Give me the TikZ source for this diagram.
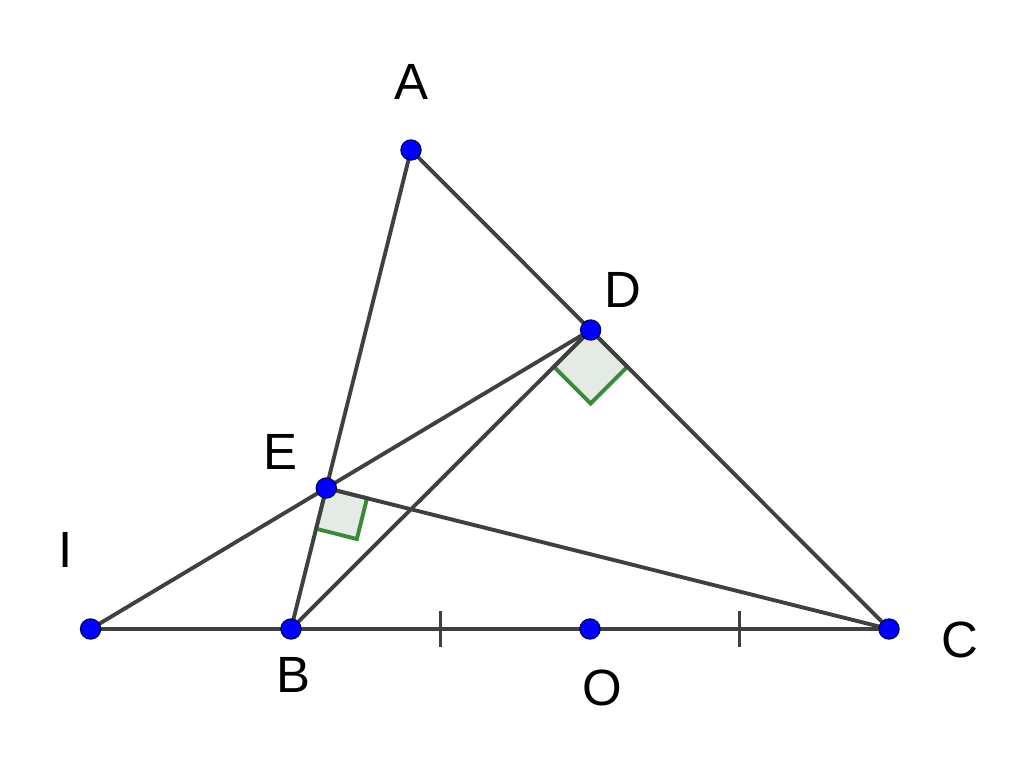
\documentclass[tikz,border=0pt]{standalone}
\usepackage{fontspec}
\setmainfont{Liberation Sans}
\usepackage{tkz-euclide}
\usepackage{xcolor}
\usetikzlibrary{calc}
\definecolor{segcol}{HTML}{404040}
\definecolor{rgreen}{HTML}{3A8A3A}
\definecolor{rfill}{HTML}{E4EBE4}
\definecolor{ptblue}{HTML}{0000FF}
\definecolor{ptedge}{HTML}{00006A}
\tikzset{lbl/.style={font=\fontsize{14.5}{17}\selectfont,inner sep=0pt},
  seg/.style={color=segcol,line width=1.1pt}}

\begin{document}
\begin{tikzpicture}
    \useasboundingbox (0,0) rectangle (10.24,7.73);
    \tkzDefPoint(4.11,6.23){A}
    \tkzDefPoint(2.91,1.44){B}
    \tkzDefPoint(8.89,1.44){C}
    \tkzDefPointBy[projection=onto A--C](B) \tkzGetPoint{D}
    \tkzDefPointBy[projection=onto A--B](C) \tkzGetPoint{E}
    \tkzDefMidPoint(B,C) \tkzGetPoint{O}
    \tkzInterLL(D,E)(B,C) \tkzGetPoint{I}
    \tkzMarkRightAngle[size=0.52,draw=rgreen,fill=rfill,line width=1.1pt](B,D,C)
    \tkzMarkRightAngle[size=0.42,draw=rgreen,fill=rfill,line width=1.1pt](C,E,B)
    \tkzDrawSegments[seg](A,B A,C I,C I,D B,D E,C)
    \tkzMarkSegments[seg,mark=|,size=5pt](B,O O,C)
    \foreach \p in {A,B,C,D,E,I,O}
      \filldraw[fill=ptblue,draw=ptedge,line width=0.4pt] (\p) circle (0.1);
    \node[lbl,shift={(0,0.68)}] (lA) at (A) {A};
    \node[lbl,shift={(0.32,0.40)}] (lD) at (D) {D};
    \node[lbl,shift={(-0.46,0.36)}] (lE) at (E) {E};
    \node[lbl,shift={(-0.25,0.79)}] (lI) at (I) {I};
    \node[lbl,shift={(0.02,-0.46)}] (lB) at (B) {B};
    \node[lbl,shift={(0.12,-0.59)}] (lO) at (O) {O};
    \node[lbl,shift={(0.71,-0.11)}] (lC) at (C) {C};
	\end{tikzpicture}
\end{document}
